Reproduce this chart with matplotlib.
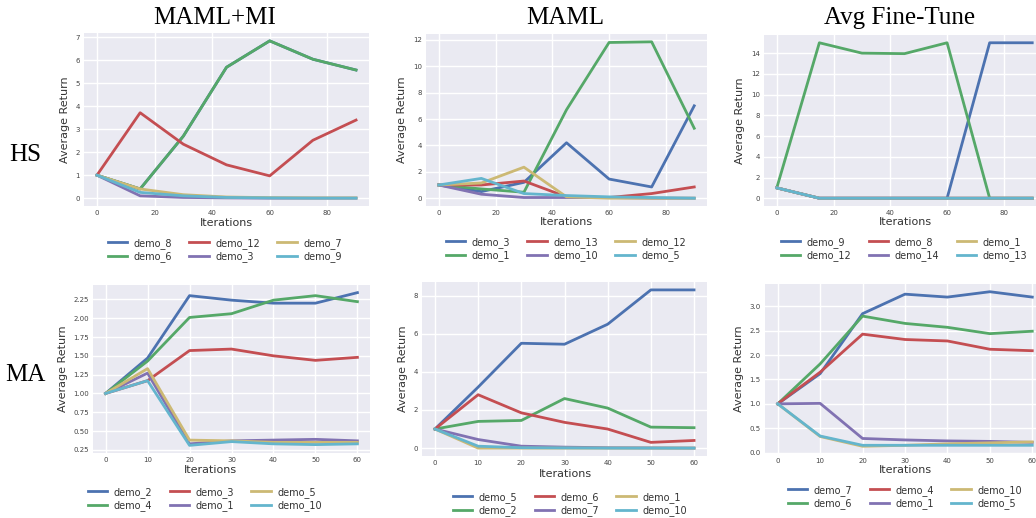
import numpy as np
import matplotlib
matplotlib.use("Agg")
import matplotlib.pyplot as plt

# ============================================================================
# DONNEES
# ============================================================================

iters_hs = [0, 15, 30, 45, 60, 75, 90]
iters_ma = [0, 10, 20, 30, 40, 50, 60]

# HS - MAML+MI
hs_mi_labels = ["demo_8", "demo_6", "demo_12", "demo_3", "demo_7", "demo_9"]
hs_mi_values = [
    [1, 0.40, 2.70, 5.70, 6.85, 6.05, 5.58],
    [1, 0.40, 2.70, 5.70, 6.85, 6.05, 5.58],
    [1, 3.72, 2.35, 1.45, 0.97, 2.52, 3.40],
    [1, 0.10, 0.03, 0.01, 0.00, 0.00, 0.00],
    [1, 0.40, 0.15, 0.05, 0.02, 0.01, 0.01],
    [1, 0.25, 0.10, 0.03, 0.01, 0.00, 0.00],
]

# HS - MAML
hs_maml_labels = ["demo_3", "demo_1", "demo_13", "demo_10", "demo_12", "demo_5"]
hs_maml_values = [
    [1, 0.50, 1.20, 4.20, 1.45, 0.85, 7.00],
    [1, 0.70, 0.45, 6.70, 11.80, 11.85, 5.30],
    [1, 1.00, 1.30, 0.10, 0.05, 0.35, 0.85],
    [1, 0.30, 0.05, 0.05, 0.05, 0.00, 0.00],
    [1, 1.15, 2.35, 0.10, 0.00, 0.00, 0.00],
    [1, 1.50, 0.35, 0.20, 0.10, 0.05, 0.00],
]

# HS - Avg Fine-Tune
hs_ft_labels = ["demo_9", "demo_12", "demo_8", "demo_14", "demo_1", "demo_13"]
hs_ft_values = [
    [1, 0, 0, 0, 0, 15, 15],
    [1, 15, 14, 13.95, 15, 0, 0],
    [1, 0, 0, 0, 0, 0, 0],
    [1, 0, 0, 0, 0, 0, 0],
    [1, 0, 0, 0, 0, 0, 0],
    [1, 0, 0, 0, 0, 0, 0],
]

# MA - MAML+MI
ma_mi_labels = ["demo_2", "demo_4", "demo_3", "demo_1", "demo_5", "demo_10"]
ma_mi_values = [
    [1, 1.47, 2.30, 2.24, 2.20, 2.20, 2.34],
    [1, 1.43, 2.01, 2.06, 2.24, 2.30, 2.22],
    [1, 1.17, 1.57, 1.59, 1.50, 1.44, 1.48],
    [1, 1.27, 0.33, 0.37, 0.38, 0.39, 0.37],
    [1, 1.33, 0.38, 0.37, 0.35, 0.35, 0.35],
    [1, 1.17, 0.31, 0.36, 0.33, 0.32, 0.33],
]

# MA - MAML
ma_maml_labels = ["demo_5", "demo_2", "demo_6", "demo_7", "demo_1", "demo_10"]
ma_maml_values = [
    [1, 3.20, 5.50, 5.45, 6.50, 8.30, 8.30],
    [1, 1.40, 1.45, 2.60, 2.10, 1.10, 1.07],
    [1, 2.80, 1.85, 1.35, 1.00, 0.30, 0.40],
    [1, 0.45, 0.10, 0.05, 0.02, 0.01, 0.00],
    [1, 0.00, 0.00, 0.00, 0.00, 0.00, 0.00],
    [1, 0.10, 0.02, 0.01, 0.00, 0.00, 0.00],
]

# MA - Avg Fine-Tune
ma_ft_labels = ["demo_7", "demo_6", "demo_4", "demo_1", "demo_10", "demo_5"]
ma_ft_values = [
    [1, 1.62, 2.85, 3.25, 3.19, 3.30, 3.19],
    [1, 1.82, 2.80, 2.65, 2.57, 2.44, 2.49],
    [1, 1.65, 2.43, 2.32, 2.29, 2.12, 2.09],
    [1, 1.01, 0.29, 0.26, 0.24, 0.23, 0.21],
    [1, 0.33, 0.13, 0.15, 0.18, 0.20, 0.22],
    [1, 0.34, 0.15, 0.15, 0.15, 0.15, 0.15],
]

col_titles = ["MAML+MI", "MAML", "Avg Fine-Tune"]
row_titles = ["HS", "MA"]

colors = ["#4C72B0", "#55A868", "#C44E52", "#8172B2", "#CCB974", "#64B5CD"]

# ============================================================================
# FIGURE
# ============================================================================

W, H = 1036, 518
fig = plt.figure(figsize=(W / 100, H / 100), dpi=100)
fig.patch.set_facecolor("white")

# positions des axes en pixels : gauche, droite, haut, bas
boxes = [
    (84, 369, 33, 206), (426, 707, 34, 206), (764, 1045, 35, 206),
    (93, 370, 285, 453), (422, 707, 282, 456), (765, 1045, 284, 454),
]
# centre des légendes (x, y) et position du label x
legend_pos = [(225, 250), (566, 249), (904, 249), (205, 499), (570, 504), (905, 497)]
xlabel_y = [223, 222, 222, 470, 474, 470]
xlabel_x = [226, 566, 905, 210, 565, 905]

panels = [
    (iters_hs, hs_mi_labels, hs_mi_values),
    (iters_hs, hs_maml_labels, hs_maml_values),
    (iters_hs, hs_ft_labels, hs_ft_values),
    (iters_ma, ma_mi_labels, ma_mi_values),
    (iters_ma, ma_maml_labels, ma_maml_values),
    (iters_ma, ma_ft_labels, ma_ft_values),
]

for k, (xs, labels, values) in enumerate(panels):
    l, r, t, b = boxes[k]
    ax = fig.add_axes([l / W, 1 - b / H, (r - l) / W, (b - t) / H])
    ax.set_facecolor("#EAEAF2")
    for s in ax.spines.values():
        s.set_visible(False)
    ax.grid(True, color="white", linewidth=1.0)
    ax.set_axisbelow(True)
    for i in range(len(labels)):
        ax.plot(xs, values[i], color=colors[i], linewidth=2.0, label=labels[i])
    ax.tick_params(axis="both", labelsize=5, length=0, pad=3, colors="#444444")
    ax.set_ylabel("Average Return", fontsize=8, color="#333333", labelpad=4)
    fig.text(xlabel_x[k] / W, 1 - xlabel_y[k] / H, "Iterations",
             fontsize=8, color="#333333", ha="center", va="center")
    leg = ax.legend(ncol=3, loc="center", fontsize=7, frameon=False,
                    bbox_to_anchor=(legend_pos[k][0] / W, 1 - legend_pos[k][1] / H),
                    bbox_transform=fig.transFigure, handlelength=2.0,
                    columnspacing=1.75, labelspacing=0.3, handletextpad=0.7)
    for txt in leg.get_texts():
        txt.set_color("#333333")
    if k == 3:
        ax.set_yticks([0.25, 0.5, 0.75, 1.0, 1.25, 1.5, 1.75, 2.0, 2.25])
    if k == 0:
        ax.set_yticks(range(0, 8))
    if k == 5:
        ax.set_yticks([0.0, 0.5, 1.0, 1.5, 2.0, 2.5, 3.0])

title_x = [215, 565, 900]
for j, t in enumerate(col_titles):
    fig.text(title_x[j] / W, 1 - 18 / H, t, fontsize=18, family="Liberation Serif",
             ha="center", va="center")
row_y = [155, 375]
for j, t in enumerate(row_titles):
    fig.text(25 / W, 1 - row_y[j] / H, t, fontsize=18, family="Liberation Serif",
             ha="center", va="center")

fig.savefig("out.png", dpi=100)
